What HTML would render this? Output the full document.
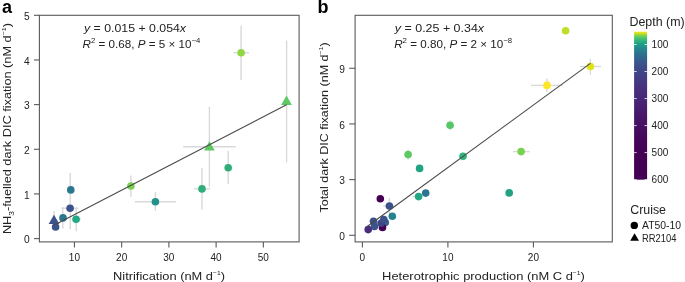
<!DOCTYPE html>
<html><head><meta charset="utf-8"><style>
html,body{margin:0;padding:0;background:#fff;}
svg{display:block;will-change:transform;}
text{font-family:"Liberation Sans",sans-serif;}
</style></head><body>
<svg width="685" height="282" viewBox="0 0 685 282">
<text x="2" y="12.6" font-size="18" font-weight="bold" font-family="Liberation Sans">a</text>
<line x1="34" y1="238.60" x2="39.4" y2="238.60" stroke="#5a5a5a" stroke-width="1.1"/>
<text x="29.6" y="243.20" font-size="10.2" text-anchor="end" font-family="Liberation Sans" fill="#222">0</text>
<line x1="34" y1="193.94" x2="39.4" y2="193.94" stroke="#5a5a5a" stroke-width="1.1"/>
<text x="29.6" y="198.54" font-size="10.2" text-anchor="end" font-family="Liberation Sans" fill="#222">1</text>
<line x1="34" y1="149.28" x2="39.4" y2="149.28" stroke="#5a5a5a" stroke-width="1.1"/>
<text x="29.6" y="153.88" font-size="10.2" text-anchor="end" font-family="Liberation Sans" fill="#222">2</text>
<line x1="34" y1="104.62" x2="39.4" y2="104.62" stroke="#5a5a5a" stroke-width="1.1"/>
<text x="29.6" y="109.22" font-size="10.2" text-anchor="end" font-family="Liberation Sans" fill="#222">3</text>
<line x1="34" y1="59.96" x2="39.4" y2="59.96" stroke="#5a5a5a" stroke-width="1.1"/>
<text x="29.6" y="64.56" font-size="10.2" text-anchor="end" font-family="Liberation Sans" fill="#222">4</text>
<line x1="34" y1="15.30" x2="39.4" y2="15.30" stroke="#5a5a5a" stroke-width="1.1"/>
<text x="29.6" y="19.90" font-size="10.2" text-anchor="end" font-family="Liberation Sans" fill="#222">5</text>
<line x1="74.43" y1="241.9" x2="74.43" y2="247.4" stroke="#5a5a5a" stroke-width="1.1"/>
<text x="74.43" y="260.6" font-size="10" text-anchor="middle" font-family="Liberation Sans" fill="#222">10</text>
<line x1="121.66" y1="241.9" x2="121.66" y2="247.4" stroke="#5a5a5a" stroke-width="1.1"/>
<text x="121.66" y="260.6" font-size="10" text-anchor="middle" font-family="Liberation Sans" fill="#222">20</text>
<line x1="168.89" y1="241.9" x2="168.89" y2="247.4" stroke="#5a5a5a" stroke-width="1.1"/>
<text x="168.89" y="260.6" font-size="10" text-anchor="middle" font-family="Liberation Sans" fill="#222">30</text>
<line x1="216.12" y1="241.9" x2="216.12" y2="247.4" stroke="#5a5a5a" stroke-width="1.1"/>
<text x="216.12" y="260.6" font-size="10" text-anchor="middle" font-family="Liberation Sans" fill="#222">40</text>
<line x1="263.35" y1="241.9" x2="263.35" y2="247.4" stroke="#5a5a5a" stroke-width="1.1"/>
<text x="263.35" y="260.6" font-size="10" text-anchor="middle" font-family="Liberation Sans" fill="#222">50</text>
<text x="113.0" y="279.7" font-size="11.8" font-family="Liberation Sans" fill="#222" textLength="112" lengthAdjust="spacingAndGlyphs">Nitrification (nM d<tspan font-size="6.2" dy="-5">−1</tspan><tspan dy="5">)</tspan></text>
<text transform="translate(11.3,234.1) rotate(-90)" x="0" y="0" font-size="11.3" font-family="Liberation Sans" fill="#222" textLength="211" lengthAdjust="spacingAndGlyphs">NH<tspan font-size="7.5" dy="2.5">3</tspan><tspan dy="-2.5">-fuelled dark DIC fixation (nM d</tspan><tspan font-size="6.2" dy="-5">−1</tspan><tspan dy="5">)</tspan></text>
<text x="84" y="32.3" font-size="10.5" font-family="Liberation Sans" fill="#222" textLength="102" lengthAdjust="spacingAndGlyphs"><tspan font-style="italic">y</tspan> = 0.015 + 0.054<tspan font-style="italic">x</tspan></text>
<text x="82.6" y="48.3" font-size="10.5" font-family="Liberation Sans" fill="#222" textLength="117.7" lengthAdjust="spacingAndGlyphs"><tspan font-style="italic">R</tspan><tspan font-size="7" dy="-5.3">2</tspan><tspan dy="5.3"> = 0.68, </tspan><tspan font-style="italic">P</tspan> = 5 × 10<tspan font-size="7" dy="-5.6">−4</tspan></text>
<line x1="54.0" y1="211" x2="54.0" y2="229" stroke="#d9d9d9" stroke-width="1.4"/>
<line x1="62.8" y1="207" x2="62.8" y2="228.5" stroke="#d9d9d9" stroke-width="1.4"/>
<line x1="70.2" y1="173" x2="70.2" y2="229.3" stroke="#d9d9d9" stroke-width="1.4"/>
<line x1="61.5" y1="208.2" x2="78.6" y2="208.2" stroke="#d9d9d9" stroke-width="1.4"/>
<line x1="76.3" y1="207.5" x2="76.3" y2="231.2" stroke="#d9d9d9" stroke-width="1.4"/>
<line x1="71.5" y1="219.0" x2="81.0" y2="219.0" stroke="#d9d9d9" stroke-width="1.4"/>
<line x1="130.9" y1="175.6" x2="130.9" y2="196.9" stroke="#d9d9d9" stroke-width="1.4"/>
<line x1="134.8" y1="201.7" x2="175.8" y2="201.7" stroke="#d9d9d9" stroke-width="1.4"/>
<line x1="155.4" y1="191.8" x2="155.4" y2="210.9" stroke="#d9d9d9" stroke-width="1.4"/>
<line x1="202.0" y1="168.1" x2="202.0" y2="209.6" stroke="#d9d9d9" stroke-width="1.4"/>
<line x1="193.9" y1="188.9" x2="210.1" y2="188.9" stroke="#d9d9d9" stroke-width="1.4"/>
<line x1="228.2" y1="151.0" x2="228.2" y2="184.0" stroke="#d9d9d9" stroke-width="1.4"/>
<line x1="241.1" y1="25.4" x2="241.1" y2="80.0" stroke="#d9d9d9" stroke-width="1.4"/>
<line x1="233.6" y1="52.7" x2="249.0" y2="52.7" stroke="#d9d9d9" stroke-width="1.4"/>
<line x1="209.4" y1="106.8" x2="209.4" y2="186.8" stroke="#d9d9d9" stroke-width="1.4"/>
<line x1="183.2" y1="146.8" x2="235.7" y2="146.8" stroke="#d9d9d9" stroke-width="1.4"/>
<line x1="286.6" y1="40.6" x2="286.6" y2="162.4" stroke="#d9d9d9" stroke-width="1.4"/>
<polygon points="54.00,214.70 48.63,224.00 59.37,224.00" fill="#3b528b"/>
<circle cx="55.6" cy="227.0" r="3.8" fill="#3b528b"/>
<circle cx="63.0" cy="217.9" r="3.8" fill="#2a788e"/>
<circle cx="70.1" cy="208.2" r="3.8" fill="#3b528b"/>
<circle cx="70.8" cy="189.9" r="3.8" fill="#2a788e"/>
<circle cx="76.1" cy="219.3" r="3.8" fill="#22a884"/>
<circle cx="130.9" cy="186.0" r="3.8" fill="#7ad151"/>
<circle cx="155.4" cy="201.7" r="3.8" fill="#21918c"/>
<circle cx="202.0" cy="188.9" r="3.8" fill="#2fae7b"/>
<circle cx="228.2" cy="167.7" r="3.8" fill="#2fae7b"/>
<circle cx="241.1" cy="52.7" r="3.8" fill="#8fd744"/>
<polygon points="209.40,141.20 204.03,150.50 214.77,150.50" fill="#5ec962"/>
<polygon points="286.50,95.60 281.13,104.90 291.87,104.90" fill="#5ec962"/>
<line x1="53.9" y1="225.2" x2="286.5" y2="104.8" stroke="#4a4a4a" stroke-width="1.1"/>
<rect x="39.4" y="15.3" width="259.70" height="226.60" fill="none" stroke="#5a5a5a" stroke-width="1.1"/>
<text x="317.6" y="12.8" font-size="18" font-weight="bold" font-family="Liberation Sans">b</text>
<line x1="349.2" y1="235.30" x2="355.1" y2="235.30" stroke="#5a5a5a" stroke-width="1.1"/>
<text x="345" y="239.90" font-size="10.2" text-anchor="end" font-family="Liberation Sans" fill="#222">0</text>
<line x1="349.2" y1="179.62" x2="355.1" y2="179.62" stroke="#5a5a5a" stroke-width="1.1"/>
<text x="345" y="184.22" font-size="10.2" text-anchor="end" font-family="Liberation Sans" fill="#222">3</text>
<line x1="349.2" y1="123.94" x2="355.1" y2="123.94" stroke="#5a5a5a" stroke-width="1.1"/>
<text x="345" y="128.54" font-size="10.2" text-anchor="end" font-family="Liberation Sans" fill="#222">6</text>
<line x1="349.2" y1="68.26" x2="355.1" y2="68.26" stroke="#5a5a5a" stroke-width="1.1"/>
<text x="345" y="72.86" font-size="10.2" text-anchor="end" font-family="Liberation Sans" fill="#222">9</text>
<line x1="362.40" y1="241.9" x2="362.40" y2="247.4" stroke="#5a5a5a" stroke-width="1.1"/>
<text x="362.40" y="260.6" font-size="10" text-anchor="middle" font-family="Liberation Sans" fill="#222">0</text>
<line x1="447.90" y1="241.9" x2="447.90" y2="247.4" stroke="#5a5a5a" stroke-width="1.1"/>
<text x="447.90" y="260.6" font-size="10" text-anchor="middle" font-family="Liberation Sans" fill="#222">10</text>
<line x1="533.40" y1="241.9" x2="533.40" y2="247.4" stroke="#5a5a5a" stroke-width="1.1"/>
<text x="533.40" y="260.6" font-size="10" text-anchor="middle" font-family="Liberation Sans" fill="#222">20</text>
<text x="382.1" y="279.7" font-size="11.8" font-family="Liberation Sans" fill="#222" textLength="202.8" lengthAdjust="spacingAndGlyphs">Heterotrophic production (nM C d<tspan font-size="6.2" dy="-5">−1</tspan><tspan dy="5">)</tspan></text>
<text transform="translate(328.4,212.6) rotate(-90)" x="0" y="0" font-size="11.3" font-family="Liberation Sans" fill="#222" textLength="170.2" lengthAdjust="spacingAndGlyphs">Total dark DIC fixation (nM d<tspan font-size="6.2" dy="-5">−1</tspan><tspan dy="5">)</tspan></text>
<text x="394.8" y="32.3" font-size="10.5" font-family="Liberation Sans" fill="#222" textLength="89.3" lengthAdjust="spacingAndGlyphs"><tspan font-style="italic">y</tspan> = 0.25 + 0.34<tspan font-style="italic">x</tspan></text>
<text x="394.2" y="48.3" font-size="10.5" font-family="Liberation Sans" fill="#222" textLength="117.9" lengthAdjust="spacingAndGlyphs"><tspan font-style="italic">R</tspan><tspan font-size="7" dy="-5.3">2</tspan><tspan dy="5.3"> = 0.80, </tspan><tspan font-style="italic">P</tspan> = 2 × 10<tspan font-size="7" dy="-5.6">−8</tspan></text>
<line x1="389.4" y1="198" x2="389.4" y2="214" stroke="#d9d9d9" stroke-width="1.4"/>
<line x1="383.3" y1="206.0" x2="395.5" y2="206.0" stroke="#d9d9d9" stroke-width="1.4"/>
<line x1="512.9" y1="151.6" x2="529.7" y2="151.6" stroke="#d9d9d9" stroke-width="1.4"/>
<line x1="450.1" y1="120.3" x2="450.1" y2="130.3" stroke="#d9d9d9" stroke-width="1.4"/>
<line x1="408.1" y1="149.4" x2="408.1" y2="159.6" stroke="#d9d9d9" stroke-width="1.4"/>
<line x1="412.4" y1="196.6" x2="418.6" y2="196.6" stroke="#d9d9d9" stroke-width="1.4"/>
<line x1="531" y1="85.4" x2="562.6" y2="85.4" stroke="#d9d9d9" stroke-width="1.4"/>
<line x1="547.0" y1="78.6" x2="547.0" y2="91.9" stroke="#d9d9d9" stroke-width="1.4"/>
<line x1="580.1" y1="66.5" x2="600.9" y2="66.5" stroke="#d9d9d9" stroke-width="1.4"/>
<line x1="590.4" y1="59" x2="590.4" y2="74.7" stroke="#d9d9d9" stroke-width="1.4"/>
<circle cx="368.2" cy="229.6" r="3.8" fill="#472d7b"/>
<circle cx="374.4" cy="226.5" r="3.8" fill="#3b528b"/>
<circle cx="373.5" cy="221.2" r="3.8" fill="#3b528b"/>
<circle cx="385.3" cy="222.6" r="3.8" fill="#3a608d"/>
<circle cx="382.5" cy="227.5" r="3.8" fill="#440154"/>
<circle cx="381.1" cy="223.3" r="3.8" fill="#414487"/>
<circle cx="383.8" cy="219.6" r="3.8" fill="#3b528b"/>
<circle cx="380.3" cy="198.7" r="3.8" fill="#440154"/>
<circle cx="389.4" cy="206.0" r="3.8" fill="#3b528b"/>
<circle cx="392.3" cy="216.2" r="3.8" fill="#26828e"/>
<circle cx="408.1" cy="154.6" r="3.8" fill="#5ec962"/>
<circle cx="419.6" cy="168.4" r="3.8" fill="#22a384"/>
<circle cx="418.6" cy="196.6" r="3.8" fill="#22a785"/>
<circle cx="425.7" cy="193.1" r="3.8" fill="#2a768e"/>
<circle cx="450.1" cy="125.3" r="3.8" fill="#56c667"/>
<circle cx="463.0" cy="156.3" r="3.8" fill="#2fb47c"/>
<circle cx="509.2" cy="192.9" r="3.8" fill="#23a283"/>
<circle cx="521.1" cy="151.6" r="3.8" fill="#7ad151"/>
<circle cx="547.0" cy="85.4" r="3.8" fill="#fde725"/>
<circle cx="565.6" cy="30.8" r="3.8" fill="#bddf26"/>
<circle cx="590.4" cy="66.5" r="3.8" fill="#dde318"/>
<line x1="367.2" y1="226.5" x2="590.4" y2="63.4" stroke="#4a4a4a" stroke-width="1.1"/>
<rect x="355.1" y="15.3" width="257.20" height="226.60" fill="none" stroke="#5a5a5a" stroke-width="1.1"/>
<text x="629.5" y="25.9" font-size="12.2" font-family="Liberation Sans" fill="#222" textLength="55.2" lengthAdjust="spacingAndGlyphs">Depth (m)</text>
<defs><linearGradient id="vir" x1="0" y1="0" x2="0" y2="1"><stop offset="0.000" stop-color="#fde725"/><stop offset="0.008" stop-color="#d9e21a"/><stop offset="0.017" stop-color="#addc30"/><stop offset="0.025" stop-color="#84d34b"/><stop offset="0.033" stop-color="#68cc5c"/><stop offset="0.042" stop-color="#51c469"/><stop offset="0.050" stop-color="#40bd72"/><stop offset="0.058" stop-color="#32b67a"/><stop offset="0.067" stop-color="#28ae80"/><stop offset="0.075" stop-color="#21a685"/><stop offset="0.083" stop-color="#1e9d89"/><stop offset="0.092" stop-color="#1f978a"/><stop offset="0.100" stop-color="#21928c"/><stop offset="0.108" stop-color="#238c8d"/><stop offset="0.117" stop-color="#24868e"/><stop offset="0.125" stop-color="#26818e"/><stop offset="0.133" stop-color="#287c8e"/><stop offset="0.142" stop-color="#2a778e"/><stop offset="0.150" stop-color="#2c738e"/><stop offset="0.158" stop-color="#2e6e8e"/><stop offset="0.167" stop-color="#306a8e"/><stop offset="0.175" stop-color="#32668e"/><stop offset="0.183" stop-color="#34628d"/><stop offset="0.192" stop-color="#365e8d"/><stop offset="0.200" stop-color="#375a8c"/><stop offset="0.208" stop-color="#39578c"/><stop offset="0.217" stop-color="#3a548b"/><stop offset="0.225" stop-color="#3c518b"/><stop offset="0.233" stop-color="#3d4e8a"/><stop offset="0.242" stop-color="#3d4c89"/><stop offset="0.250" stop-color="#3e4a89"/><stop offset="0.258" stop-color="#3f4888"/><stop offset="0.267" stop-color="#404688"/><stop offset="0.275" stop-color="#414487"/><stop offset="0.283" stop-color="#414386"/><stop offset="0.292" stop-color="#424186"/><stop offset="0.300" stop-color="#424085"/><stop offset="0.308" stop-color="#433e84"/><stop offset="0.317" stop-color="#433c84"/><stop offset="0.325" stop-color="#443b83"/><stop offset="0.333" stop-color="#443982"/><stop offset="0.342" stop-color="#453882"/><stop offset="0.350" stop-color="#453681"/><stop offset="0.358" stop-color="#463480"/><stop offset="0.367" stop-color="#46337f"/><stop offset="0.375" stop-color="#46327f"/><stop offset="0.383" stop-color="#46317e"/><stop offset="0.392" stop-color="#47307d"/><stop offset="0.400" stop-color="#472e7c"/><stop offset="0.408" stop-color="#472d7b"/><stop offset="0.417" stop-color="#472c7b"/><stop offset="0.425" stop-color="#472b7a"/><stop offset="0.433" stop-color="#472a79"/><stop offset="0.442" stop-color="#472978"/><stop offset="0.450" stop-color="#482777"/><stop offset="0.458" stop-color="#482677"/><stop offset="0.467" stop-color="#482576"/><stop offset="0.475" stop-color="#482475"/><stop offset="0.483" stop-color="#482374"/><stop offset="0.492" stop-color="#482173"/><stop offset="0.500" stop-color="#482071"/><stop offset="0.508" stop-color="#481f70"/><stop offset="0.517" stop-color="#481e6f"/><stop offset="0.525" stop-color="#481c6e"/><stop offset="0.533" stop-color="#471b6d"/><stop offset="0.542" stop-color="#471a6c"/><stop offset="0.550" stop-color="#47196b"/><stop offset="0.558" stop-color="#47186a"/><stop offset="0.567" stop-color="#471769"/><stop offset="0.575" stop-color="#471668"/><stop offset="0.583" stop-color="#471567"/><stop offset="0.592" stop-color="#471466"/><stop offset="0.600" stop-color="#471365"/><stop offset="0.608" stop-color="#471264"/><stop offset="0.617" stop-color="#471164"/><stop offset="0.625" stop-color="#471163"/><stop offset="0.633" stop-color="#461062"/><stop offset="0.642" stop-color="#460f61"/><stop offset="0.650" stop-color="#460e60"/><stop offset="0.658" stop-color="#460d5f"/><stop offset="0.667" stop-color="#460c5f"/><stop offset="0.675" stop-color="#460b5e"/><stop offset="0.683" stop-color="#460b5d"/><stop offset="0.692" stop-color="#450a5c"/><stop offset="0.700" stop-color="#45095b"/><stop offset="0.708" stop-color="#45085b"/><stop offset="0.717" stop-color="#45075a"/><stop offset="0.725" stop-color="#450659"/><stop offset="0.733" stop-color="#450659"/><stop offset="0.742" stop-color="#450558"/><stop offset="0.750" stop-color="#450558"/><stop offset="0.758" stop-color="#450457"/><stop offset="0.767" stop-color="#440457"/><stop offset="0.775" stop-color="#440356"/><stop offset="0.783" stop-color="#440356"/><stop offset="0.792" stop-color="#440255"/><stop offset="0.800" stop-color="#440255"/><stop offset="0.808" stop-color="#440254"/><stop offset="0.817" stop-color="#440154"/><stop offset="0.825" stop-color="#440154"/><stop offset="0.833" stop-color="#440154"/><stop offset="0.842" stop-color="#440154"/><stop offset="0.850" stop-color="#440154"/><stop offset="0.858" stop-color="#440154"/><stop offset="0.867" stop-color="#440154"/><stop offset="0.875" stop-color="#440154"/><stop offset="0.883" stop-color="#440154"/><stop offset="0.892" stop-color="#440154"/><stop offset="0.900" stop-color="#440154"/><stop offset="0.908" stop-color="#440154"/><stop offset="0.917" stop-color="#440154"/><stop offset="0.925" stop-color="#440154"/><stop offset="0.933" stop-color="#440154"/><stop offset="0.942" stop-color="#440154"/><stop offset="0.950" stop-color="#440154"/><stop offset="0.958" stop-color="#440154"/><stop offset="0.967" stop-color="#440154"/><stop offset="0.975" stop-color="#440154"/><stop offset="0.983" stop-color="#440154"/><stop offset="0.992" stop-color="#440154"/><stop offset="1.000" stop-color="#440154"/></linearGradient></defs>
<rect x="634.1" y="31.7" width="13" height="148.0" fill="url(#vir)"/>
<line x1="634.1" y1="44.50" x2="636.7" y2="44.50" stroke="#fff" stroke-width="0.8"/>
<line x1="644.5" y1="44.50" x2="647.1" y2="44.50" stroke="#fff" stroke-width="0.8"/>
<text x="651.6" y="48.10" font-size="10" font-family="Liberation Sans" fill="#222">100</text>
<line x1="634.1" y1="71.53" x2="636.7" y2="71.53" stroke="#fff" stroke-width="0.8"/>
<line x1="644.5" y1="71.53" x2="647.1" y2="71.53" stroke="#fff" stroke-width="0.8"/>
<text x="651.6" y="75.13" font-size="10" font-family="Liberation Sans" fill="#222">200</text>
<line x1="634.1" y1="98.56" x2="636.7" y2="98.56" stroke="#fff" stroke-width="0.8"/>
<line x1="644.5" y1="98.56" x2="647.1" y2="98.56" stroke="#fff" stroke-width="0.8"/>
<text x="651.6" y="102.16" font-size="10" font-family="Liberation Sans" fill="#222">300</text>
<line x1="634.1" y1="125.59" x2="636.7" y2="125.59" stroke="#fff" stroke-width="0.8"/>
<line x1="644.5" y1="125.59" x2="647.1" y2="125.59" stroke="#fff" stroke-width="0.8"/>
<text x="651.6" y="129.19" font-size="10" font-family="Liberation Sans" fill="#222">400</text>
<line x1="634.1" y1="152.62" x2="636.7" y2="152.62" stroke="#fff" stroke-width="0.8"/>
<line x1="644.5" y1="152.62" x2="647.1" y2="152.62" stroke="#fff" stroke-width="0.8"/>
<text x="651.6" y="156.22" font-size="10" font-family="Liberation Sans" fill="#222">500</text>
<line x1="634.1" y1="179.65" x2="636.7" y2="179.65" stroke="#fff" stroke-width="0.8"/>
<line x1="644.5" y1="179.65" x2="647.1" y2="179.65" stroke="#fff" stroke-width="0.8"/>
<text x="651.6" y="183.25" font-size="10" font-family="Liberation Sans" fill="#222">600</text>
<text x="630.2" y="213.7" font-size="12" font-family="Liberation Sans" fill="#222" textLength="35.8" lengthAdjust="spacingAndGlyphs">Cruise</text>
<circle cx="634.3" cy="225.4" r="3.7" fill="#000"/>
<text x="642" y="229" font-size="10" font-family="Liberation Sans" fill="#222" textLength="39.1" lengthAdjust="spacingAndGlyphs">AT50-10</text>
<polygon points="634.60,233.13 630.21,240.73 638.99,240.73" fill="#000"/>
<text x="642" y="241.5" font-size="10" font-family="Liberation Sans" fill="#222" textLength="34.5" lengthAdjust="spacingAndGlyphs">RR2104</text>
</svg>
</body></html>
